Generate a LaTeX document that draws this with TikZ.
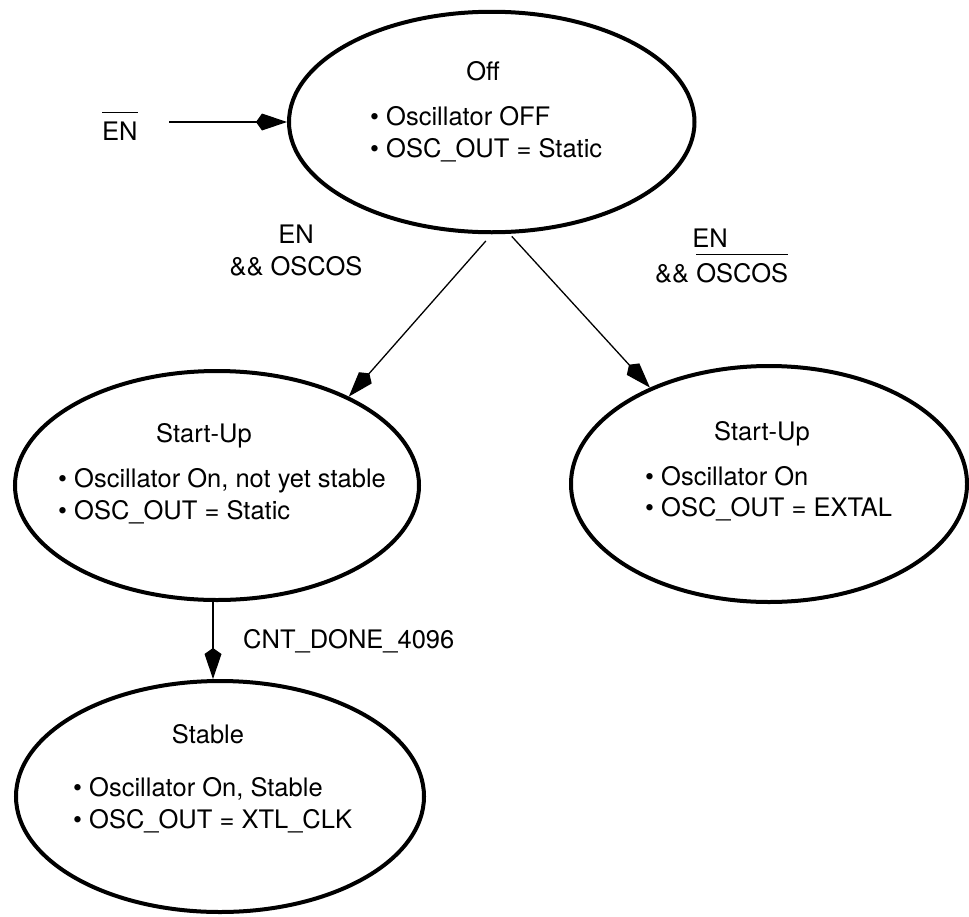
\documentclass[tikz,border=0pt]{standalone}
\usepackage{fontspec}
\setmainfont{TeX Gyre Heros}
\usetikzlibrary{shapes.geometric,arrows.meta}
\newcommand\ovl[1]{\setbox0\hbox{#1}\rlap{\rule[\dimexpr\ht0+8pt\relax]{\wd0}{1.3pt}}\box0}
\begin{document}
\begin{tikzpicture}[x=1pt,y=-1pt,
  every node/.style={font=\fontsize{25.5}{32}\selectfont, inner sep=0pt},
  state/.style={ellipse, draw, line width=4pt, inner sep=0pt},
  conn/.style={line width=1.3pt, -{Kite[length=31pt,width=17pt,inset=6pt]}},
  bl/.style={anchor=base west},
  tl/.style={anchor=base}]
\useasboundingbox (0,0) rectangle (969,916);
% states
\node[state, minimum width=405.5pt, minimum height=220.5pt] (off) at (491.75,122) {};
\node[state, minimum width=404pt, minimum height=229pt] (su1) at (217,485.5) {};
\node[state, minimum width=396pt, minimum height=236pt] (su2) at (769,484) {};
\node[state, minimum width=408pt, minimum height=231pt] (stable) at (220,796.5) {};
% state texts
\node[tl] (offT) at (483,80) {Off};
\node[bl] (offB1) at (370,125) {• Oscillator OFF};
\node[bl] (offB2) at (370,157) {• OSC\_OUT = Static};
\node[tl] (su1T) at (204,442) {Start-Up};
\node[bl] (su1B1) at (58,487) {• Oscillator On, not yet stable};
\node[bl] (su1B2) at (58,519) {• OSC\_OUT = Static};
\node[tl] (su2T) at (762,440) {Start-Up};
\node[bl] (su2B1) at (645,485) {• Oscillator On};
\node[bl] (su2B2) at (645,516) {• OSC\_OUT = EXTAL};
\node[tl] (stT) at (208,743) {Stable};
\node[bl] (stB1) at (73,796) {• Oscillator On, Stable};
\node[bl] (stB2) at (73,828) {• OSC\_OUT = XTL\_CLK};
% labels
\node[bl] (enL) at (102,140) {\ovl{EN}};
\node[tl] (lblA1) at (296,243) {EN};
\node[tl] (lblA2) at (296,275) {\&\& OSCOS};
\node[tl] (lblB1) at (710,247) {EN};
\node[bl] (lblB2) at (655,282) {\&\& \ovl{OSCOS}};
\node[bl] (lblC) at (243,648) {CNT\_DONE\_4096};
% connectors
\coordinate (enS) at (169,122);
\draw[conn] (enS) -- (off.west);
\draw[conn, shorten <=9pt] (off.270) -- (su1.34.4);
\draw[conn, shorten <=3.5pt] (off.279.4) -- (su2.141.9);
\draw[conn] ([xshift=-4pt]su1.south) -- ([xshift=-7pt]stable.north);
\end{tikzpicture}
\end{document}
